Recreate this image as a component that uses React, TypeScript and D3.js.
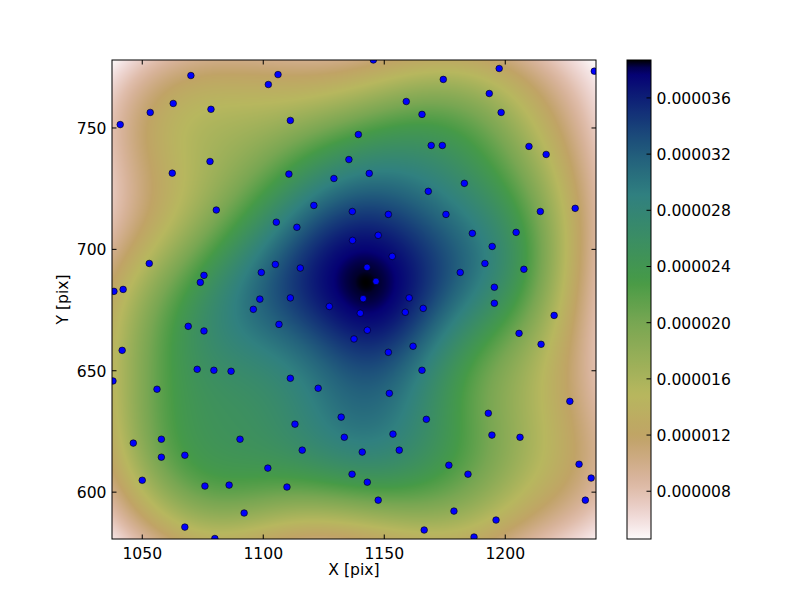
import React, { useMemo } from "react";
import * as d3 from "d3";

// scatter positions in pixel units of the detector
const px = [
  1070.1, 1102.1, 1106.1, 1062.8, 1053.3, 1078.4, 1040.9, 1111.2, 1078.0, 1062.4,
  1110.6, 1135.4, 1129.2, 1080.6, 1120.9, 1136.8, 1105.4, 1113.9, 1136.9, 1052.9,
  1042.1, 1038.3, 1075.5, 1074.0, 1099.2, 1105.0, 1115.3, 1098.6, 1111.2,
  1145.5, 1197.5, 1236.8, 1174.4, 1193.4, 1159.1, 1165.6, 1198.3, 1139.3, 1169.4,
  1174.0, 1209.8, 1216.9, 1143.8, 1183.1, 1168.2, 1151.7, 1175.5, 1214.5, 1228.9,
  1147.5, 1186.4, 1204.5, 1194.6, 1153.3, 1191.6, 1142.9, 1146.6, 1181.4, 1207.7,
  1195.5, 1141.3, 1160.3,
  1095.9, 1127.3, 1069.0, 1075.5, 1106.5, 1137.5, 1041.7, 1072.7, 1079.6, 1086.7,
  1037.9, 1056.1, 1111.2, 1122.7, 1132.2, 1113.1, 1046.3, 1057.9, 1090.4, 1133.5,
  1057.9, 1067.6, 1116.1, 1101.9, 1136.7, 1050.0, 1075.9, 1085.9, 1109.8, 1092.1,
  1067.6, 1080.0,
  1140.1, 1158.7, 1166.1, 1195.5, 1220.2, 1143.0, 1161.9, 1151.7, 1205.7, 1214.8,
  1165.6, 1152.1, 1226.7, 1193.0, 1167.4, 1153.6, 1194.5, 1206.1, 1140.9, 1156.2,
  1176.7, 1184.6, 1143.0, 1230.5, 1235.5, 1147.5, 1233.1, 1178.8, 1196.2, 1166.5,
  1187.1,
];
const py = [
  771.6, 767.9, 772.0, 760.1, 756.4, 757.7, 751.4, 753.1, 736.2, 731.4,
  731.0, 737.0, 729.2, 716.2, 718.1, 715.6, 711.2, 709.1, 703.7, 694.2,
  683.5, 682.7, 689.3, 686.4, 690.5, 693.8, 692.3, 679.5, 680.0,
  778.0, 774.5, 773.4, 770.0, 764.2, 760.9, 755.6, 756.4, 747.3, 742.8,
  742.8, 742.4, 739.1, 731.3, 727.2, 723.9, 714.4, 714.4, 715.6, 716.9,
  705.8, 706.6, 707.0, 701.2, 697.1, 694.2, 692.6, 686.8, 690.5, 691.8,
  684.4, 679.7, 680.0,
  675.3, 676.5, 668.3, 666.4, 669.1, 663.1, 658.4, 650.6, 650.2, 649.8,
  645.8, 642.4, 646.9, 642.8, 630.9, 628.0, 620.2, 621.8, 621.8, 622.6,
  614.4, 615.2, 617.3, 609.9, 607.4, 604.9, 602.5, 602.9, 602.1, 591.4,
  585.6, 580.9,
  673.7, 674.1, 675.7, 677.8, 672.8, 666.7, 660.1, 657.6, 665.4, 660.9,
  650.2, 640.7, 637.4, 632.5, 630.0, 623.9, 623.5, 622.6, 616.5, 617.3,
  611.1, 607.4, 604.1, 611.5, 605.8, 596.7, 596.7, 592.2, 588.5, 584.4,
  581.5,
];

const xTicks = [1050, 1100, 1150, 1200];
const yTicks = [600, 650, 700, 750];
const cbTicks = [0.000008, 0.000012, 0.000016, 0.00002, 0.000024, 0.000028, 0.000032, 0.000036];
const xDomain = [1037.5, 1237.5];
const yDomain = [580.7, 778.0];
const cbDomain = [0.0000046, 0.0000387];

// gist_earth segment data (used reversed)
const gR = [[0, 0], [0.2824, 0.1882], [0.4588, 0.2714], [0.549, 0.4719], [0.698, 0.7176], [0.7882, 0.7553], [1, 0.9922]];
const gG = [[0, 0], [0.0275, 0], [0.1098, 0.1893], [0.1647, 0.3035], [0.2078, 0.3841], [0.2824, 0.502], [0.5216, 0.6397], [0.698, 0.7171], [0.7882, 0.6392], [0.8157, 0.6549], [0.8667, 0.6991], [0.898, 0.743], [0.9412, 0.8275], [0.9647, 0.8816], [1, 0.9843]];
const gB = [[0, 0], [0.0039, 0.1684], [0.0078, 0.2212], [0.0275, 0.4329], [0.0314, 0.4549], [0.2824, 0.5004], [0.4667, 0.2748], [0.5451, 0.3205], [0.7843, 0.3961], [0.8941, 0.6651], [1, 0.9843]];
const chan = (seg: number[][]) =>
  d3.scaleLinear().domain(seg.map((d) => d[0])).range(seg.map((d) => d[1])).clamp(true);
const cR = chan(gR), cG = chan(gG), cB = chan(gB);
const earthR = (t: number): [number, number, number] => {
  const u = 1 - t;
  return [cR(u) * 255, cG(u) * 255, cB(u) * 255];
};

const W = 800, H = 600;
const L = 112, T = 60, R = 596, B = 539;
const CB = { x0: 627, x1: 651 };
const FS = 15.6;

export default function App() {
  const x = d3.scaleLinear().domain(xDomain).range([L, R]);
  const y = d3.scaleLinear().domain(yDomain).range([B, T]);
  const cy = d3.scaleLinear().domain(cbDomain).range([B, T]);

  // gaussian kde (scott's rule) of the points, evaluated per pixel
  const img = useMemo(() => {
    const n = px.length;
    const mx = d3.mean(px)!, my = d3.mean(py)!;
    let sxx = 0, syy = 0, sxy = 0;
    for (let i = 0; i < n; i++) {
      sxx += (px[i] - mx) ** 2;
      syy += (py[i] - my) ** 2;
      sxy += (px[i] - mx) * (py[i] - my);
    }
    const f = Math.pow(n, -1 / 6);
    const a = (sxx / (n - 1)) * f * f, d = (syy / (n - 1)) * f * f, b = (sxy / (n - 1)) * f * f;
    const det = a * d - b * b;
    const ia = d / det, id = a / det, ib = -b / det;
    const norm = 1 / (n * 2 * Math.PI * Math.sqrt(det));
    const w = R - L, h = B - T;
    const vals = new Float64Array(w * h);
    for (let j = 0; j < h; j++) {
      const yy = y.invert(T + j + 0.5);
      for (let i = 0; i < w; i++) {
        const xx = x.invert(L + i + 0.5);
        let s = 0;
        for (let k = 0; k < n; k++) {
          const dx = xx - px[k], dy = yy - py[k];
          s += Math.exp(-0.5 * (ia * dx * dx + 2 * ib * dx * dy + id * dy * dy));
        }
        vals[j * w + i] = s * norm;
      }
    }
    const [lo, hi] = d3.extent(vals) as [number, number];
    const t = d3.scaleLinear().domain([lo, hi]).range([0, 1]);
    const canvas = document.createElement("canvas");
    canvas.width = w;
    canvas.height = h;
    const ctx = canvas.getContext("2d")!;
    const im = ctx.createImageData(w, h);
    for (let k = 0; k < w * h; k++) {
      const c = earthR(t(vals[k]));
      im.data[4 * k] = c[0];
      im.data[4 * k + 1] = c[1];
      im.data[4 * k + 2] = c[2];
      im.data[4 * k + 3] = 255;
    }
    ctx.putImageData(im, 0, 0);
    return canvas.toDataURL();
  }, []);

  const stops = d3.range(0, 1.0001, 1 / 64);
  const font = "DejaVu Sans, sans-serif";

  return (
    <svg width={W} height={H} style={{ position: "absolute", left: 0, top: 0 }} fontFamily={font}>
      <rect width={W} height={H} fill="white" />
      <defs>
        <clipPath id="plot">
          <rect x={L} y={T} width={R - L} height={B - T} />
        </clipPath>
        <linearGradient id="cbar" x1="0" y1="1" x2="0" y2="0">
          {stops.map((s) => {
            const c = earthR(s);
            return <stop key={s} offset={s} stopColor={d3.rgb(c[0], c[1], c[2]).formatHex()} />;
          })}
        </linearGradient>
      </defs>
      <image href={img} x={L} y={T} width={R - L} height={B - T} preserveAspectRatio="none" />
      <g clipPath="url(#plot)">
        {px.map((v, i) => (
          <circle key={i} cx={x(v)} cy={y(py[i])} r={3.3} fill="#0000ff" stroke="black" strokeWidth={0.6} />
        ))}
      </g>
      <rect x={L} y={T} width={R - L} height={B - T} fill="none" stroke="black" strokeWidth={1} />
      {xTicks.map((v) => (
        <g key={v}>
          <line x1={x(v)} x2={x(v)} y1={B} y2={B - 4.5} stroke="black" />
          <line x1={x(v)} x2={x(v)} y1={T} y2={T + 4.5} stroke="black" />
          <text x={x(v)} y={B + 19.5} fontSize={FS} textAnchor="middle">{v}</text>
        </g>
      ))}
      {yTicks.map((v) => (
        <g key={v}>
          <line x1={L} x2={L + 4.5} y1={y(v)} y2={y(v)} stroke="black" />
          <line x1={R} x2={R - 4.5} y1={y(v)} y2={y(v)} stroke="black" />
          <text x={L - 5.5} y={y(v) + 6} fontSize={FS} textAnchor="end">{v}</text>
        </g>
      ))}
      <text x={(L + R) / 2} y={575} fontSize={FS} textAnchor="middle">X [pix]</text>
      <text transform={`translate(67.5,${(T + B) / 2}) rotate(-90)`} fontSize={FS} textAnchor="middle">Y [pix]</text>
      <rect x={CB.x0} y={T} width={CB.x1 - CB.x0} height={B - T} fill="url(#cbar)" stroke="black" strokeWidth={1} />
      {cbTicks.map((v) => (
        <g key={v}>
          <line x1={CB.x1} x2={CB.x1 - 4.5} y1={cy(v)} y2={cy(v)} stroke="black" />
          <text x={CB.x1 + 5.5} y={cy(v) + 6} fontSize={FS}>{d3.format(".6f")(v)}</text>
        </g>
      ))}
    </svg>
  );
}
